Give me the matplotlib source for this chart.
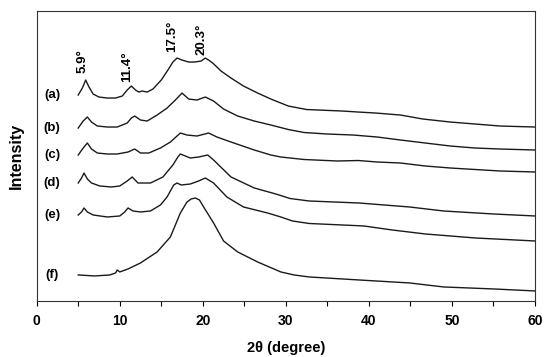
import matplotlib
matplotlib.use("Agg")
import matplotlib.pyplot as plt
from matplotlib.ticker import MultipleLocator

plt.rcParams['font.family'] = ['Liberation Sans', 'DejaVu Sans']

BASE = 301  # intensity = BASE - reading

# 2theta (deg) and readings for each pattern
a_x = [5.0, 5.5, 5.9, 6.3, 6.8, 7.5, 8.5, 9.5, 10.3, 10.9, 11.4, 11.9, 12.3, 12.7, 13.3, 14.0, 15.0, 15.8, 16.4, 16.9,
       17.5, 18.3, 19.0, 19.8, 20.3, 20.7, 21.2, 22.2, 23.4, 24.9, 26.6, 28.2, 29.4, 30.3, 32.5, 36.8, 38.7, 40.8, 43.8,
       46.5, 49.8, 52.8, 55.8, 60.0]
a_r = [95, 88, 80, 87, 94, 97, 98, 98, 96, 90, 86, 90, 92, 91, 92, 89, 80, 70, 62, 58,
       60, 62, 62, 61, 58, 60, 63, 71, 78, 86, 93, 99, 103, 106, 109.5, 111, 112, 113, 115,
       119, 122, 124, 126, 127]

b_x = [5.0, 5.6, 6.1, 6.6, 7.3, 8.5, 9.7, 10.9, 11.4, 11.8, 12.5, 13.3, 14.5, 15.7, 16.7, 17.5, 18.3, 19.3, 20.3,
       21.3, 22.5, 24.2, 26.2, 28.2, 30.3, 32.2, 35.0, 38.1, 41.0, 43.8, 46.8, 49.8, 52.8, 55.8, 60.0]
b_r = [128, 121, 117, 122, 126, 127, 127, 123, 118, 116, 120, 121, 115, 108, 100, 93, 99, 100, 97,
       101, 109, 116, 121, 125, 129.5, 132.5, 134, 135, 137, 140, 143, 146, 148, 149, 150]

c_x = [5.0, 5.6, 6.1, 6.6, 7.3, 8.5, 9.7, 11.0, 11.8, 12.5, 13.5, 14.9, 16.1, 17.3, 18.1, 19.3, 20.7, 21.7, 23.4,
       26.2, 28.2, 29.4, 32.2, 36.2, 38.7, 41.0, 43.8, 46.8, 49.8, 55.8, 60.0]
c_r = [155, 148, 143, 149, 153, 154, 154, 152, 149, 153, 153, 148, 142, 133, 135, 136, 133, 137, 142,
       150, 155, 157, 159.5, 161, 160.5, 162, 163, 166, 168, 171, 172]

d_x = [5.0, 5.4, 5.7, 6.1, 6.6, 7.6, 9.0, 10.0, 10.9, 11.5, 12.2, 13.7, 15.2, 16.4, 17.0, 17.3, 18.5, 19.5, 20.6,
       21.3, 23.4, 26.2, 28.8, 30.5, 32.8, 38.8, 44.9, 49.0, 55.0, 60.0]
d_r = [183, 178, 173, 179, 183, 186, 187, 186, 181, 177, 183, 183, 177, 165, 157, 154, 158, 157, 155,
       160, 177, 188, 194, 198.5, 201, 203, 207, 211, 214, 216]

e_x = [5.0, 5.4, 5.7, 6.1, 6.8, 8.5, 10.0, 10.6, 11.0, 11.6, 12.5, 13.7, 14.9, 15.7, 16.5, 16.9, 17.4, 18.5, 19.5,
       20.3, 21.3, 22.9, 24.9, 27.8, 29.4, 30.8, 32.8, 36.8, 39.4, 42.8, 46.8, 52.8, 60.0]
e_r = [215, 212, 208, 212, 215, 217, 216, 212, 208, 211, 212, 211, 205, 197, 185, 183, 185, 184, 181,
       178, 183, 197, 207, 213, 217, 221, 223.5, 225, 226, 230, 234, 238, 241]

f_x = [5.0, 7.0, 8.8, 9.5, 9.7, 10.0, 11.0, 12.5, 14.5, 16.1, 17.3, 18.1, 18.6, 19.1, 19.6, 20.1, 21.3, 22.5, 24.2,
       26.6, 29.4, 31.0, 32.8, 38.8, 44.9, 49.0, 55.0, 60.0]
f_r = [275, 276, 275, 273, 270, 272, 269, 263, 252, 237, 213, 202, 199, 198, 200, 207, 223, 241, 252,
       262, 272, 275, 277, 280, 283, 287, 289, 291]

series = [("(a)", a_x, a_r), ("(b)", b_x, b_r), ("(c)", c_x, c_r),
          ("(d)", d_x, d_r), ("(e)", e_x, e_r), ("(f)", f_x, f_r)]

peak_text = ["5.9°", "11.4°", "17.5°", "20.3°"]
peak_x = [5.5, 10.9, 16.3, 19.9]
peak_y = [228, 219, 249, 246]

fig = plt.figure(figsize=(5.5, 3.57), dpi=100)
ax = fig.add_axes([0.0667, 0.157, 0.906, 0.812])

for lab, xs, rs in series:
    ys = [BASE - r for r in rs]
    ax.plot(xs, ys, color='#1a1a1a', lw=1.0)
    ax.text(1.85, ys[0], lab, ha='center', va='center', fontsize=9.5, fontweight='bold')

for t, px, py in zip(peak_text, peak_x, peak_y):
    ax.text(px, py, t, rotation=90, ha='center', va='bottom', fontsize=9.5, fontweight='bold')

ax.set_xlim(0, 60)
ax.set_ylim(0, 290)
ax.xaxis.set_major_locator(MultipleLocator(10))
ax.xaxis.set_minor_locator(MultipleLocator(5))
ax.tick_params(axis='x', which='major', direction='out', length=3.5, width=0.8, labelsize=10, pad=6)
ax.tick_params(axis='x', which='minor', direction='out', length=3.5, width=0.8)
for lbl in ax.get_xticklabels():
    lbl.set_fontweight('bold')
ax.set_yticks([])
for s in ax.spines.values():
    s.set_linewidth(0.8)
    s.set_color('#333333')
ax.set_xlabel("2θ (degree)", fontsize=10.5, fontweight='bold', labelpad=9)
ax.set_ylabel("Intensity", fontsize=11.5, fontweight='bold', labelpad=9)

fig.savefig("out.png", dpi=100)
